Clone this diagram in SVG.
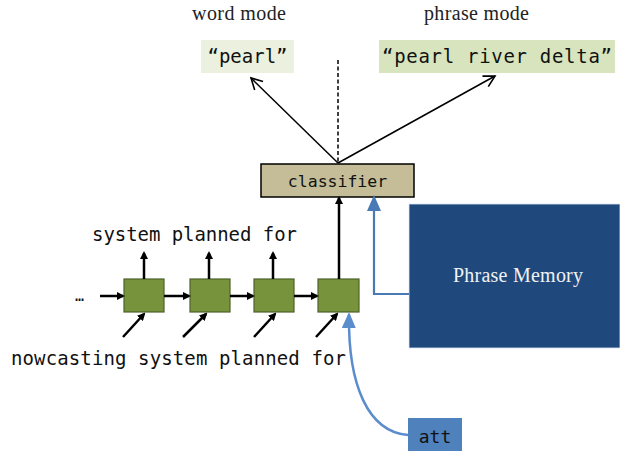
<svg xmlns="http://www.w3.org/2000/svg" width="620" height="451" viewBox="0 0 620 451">
<style>
.mono{font-family:"DejaVu Sans Mono","Liberation Mono",monospace;fill:#111}
.serif{font-family:"Liberation Serif","DejaVu Serif",serif}
.cell{fill:#77933c;stroke:#4f6228;stroke-width:1.2}
.blk{stroke:#000;stroke-width:2.5;fill:none}
.thin{stroke:#000;stroke-width:1.5;fill:none}
</style>
<defs>
<marker id="tri" markerWidth="8" markerHeight="8" refX="6" refY="4" orient="auto" markerUnits="userSpaceOnUse" viewBox="0 0 8 8">
<path d="M0,0 L8,4 L0,8 Z" fill="#000"/>
</marker>
<marker id="triBlue" markerWidth="16" markerHeight="14" refX="13" refY="7" orient="auto" markerUnits="userSpaceOnUse" viewBox="0 0 16 14">
<path d="M0,0 L16,7 L0,14 Z" fill="#4a7ab5"/>
</marker>
<marker id="triBlue2" markerWidth="16" markerHeight="14" refX="13" refY="7" orient="auto" markerUnits="userSpaceOnUse" viewBox="0 0 16 14">
<path d="M0,0 L16,7 L0,14 Z" fill="#5b8ccc"/>
</marker>
<marker id="open" markerWidth="14" markerHeight="14" refX="12" refY="7" orient="auto" markerUnits="userSpaceOnUse" viewBox="0 0 14 14">
<path d="M1,1 L12,7 L1,13" fill="none" stroke="#000" stroke-width="1.6"/>
</marker>
</defs>

<g id="labels">
<text class="serif" x="192" y="20" font-size="20" fill="#222" textLength="94">word mode</text>
<text class="serif" x="424" y="20" font-size="20" fill="#222" textLength="105">phrase mode</text>
</g>

<g id="word-box">
<rect x="201" y="40" width="93" height="33" fill="#ebf1de"/>
<text class="mono" x="247.5" y="63" font-size="19" text-anchor="middle">“pearl”</text>
</g>

<g id="phrase-box">
<rect x="379" y="40" width="236" height="33" fill="#d7e4bd"/>
<text class="mono" x="497" y="63" font-size="19" text-anchor="middle" textLength="230">“pearl river delta”</text>
</g>

<g id="classifier">
<rect x="261" y="164" width="153" height="33" fill="#c4bd97" stroke="#000" stroke-width="1.5"/>
<text class="mono" x="337.5" y="187" font-size="16.5" text-anchor="middle">classifier</text>
</g>

<g id="phrase-memory">
<rect x="409" y="204" width="211" height="144" fill="#1f497d" stroke="#dfe6ef" stroke-width="0.8"/>
<text class="serif" x="453" y="282" font-size="20" fill="#f2f2f2" textLength="130">Phrase Memory</text>
</g>

<g id="att">
<rect x="408" y="418" width="54" height="33" fill="#4f81bd"/>
<text class="mono" x="435" y="443" font-size="18" text-anchor="middle">att</text>
</g>

<g id="rnn">
<rect id="cell1" class="cell" x="124" y="279" width="40" height="33"/>
<rect id="cell2" class="cell" x="190" y="279" width="40" height="33"/>
<rect id="cell3" class="cell" x="254" y="279" width="40" height="33"/>
<rect id="cell4" class="cell" x="318" y="279" width="41" height="33"/>
</g>

<g id="texts">
<text class="mono" x="75" y="301" font-size="15">…</text>
<text class="mono" x="92" y="241" font-size="19" textLength="205">system planned for</text>
<text class="mono" x="11" y="365" font-size="19" textLength="335">nowcasting system planned for</text>
</g>

<g id="connectors">
<line class="thin" x1="338" y1="163" x2="251" y2="78" marker-end="url(#open)"/>
<line class="thin" x1="338" y1="163" x2="495" y2="76" marker-end="url(#open)"/>
<line x1="338" y1="60" x2="338" y2="163" stroke="#000" stroke-width="1.5" stroke-dasharray="4,2.5"/>

<line class="blk" x1="100" y1="296" x2="123" y2="296" marker-end="url(#tri)"/>
<line class="blk" x1="164" y1="296" x2="189" y2="296" marker-end="url(#tri)"/>
<line class="blk" x1="230" y1="296" x2="253" y2="296" marker-end="url(#tri)"/>
<line class="blk" x1="294" y1="296" x2="317" y2="296" marker-end="url(#tri)"/>

<line class="blk" x1="144" y1="279" x2="144" y2="253" marker-end="url(#tri)"/>
<line class="blk" x1="209" y1="279" x2="209" y2="253" marker-end="url(#tri)"/>
<line class="blk" x1="273" y1="279" x2="273" y2="253" marker-end="url(#tri)"/>
<line class="blk" x1="339" y1="279" x2="339" y2="198" marker-end="url(#tri)"/>

<line class="blk" x1="123" y1="337" x2="144" y2="314" marker-end="url(#tri)"/>
<line class="blk" x1="183" y1="337" x2="206" y2="314" marker-end="url(#tri)"/>
<line class="blk" x1="254" y1="337" x2="275" y2="314" marker-end="url(#tri)"/>
<line class="blk" x1="316" y1="337" x2="337" y2="314" marker-end="url(#tri)"/>

<path d="M409,294 H374 V198" fill="none" stroke="#4a7ab5" stroke-width="2.2" marker-end="url(#triBlue)"/>
<path d="M408,435 C368,432 348,385 349,315" fill="none" stroke="#5b8ccc" stroke-width="2.5" marker-end="url(#triBlue2)"/>
</g>
</svg>
